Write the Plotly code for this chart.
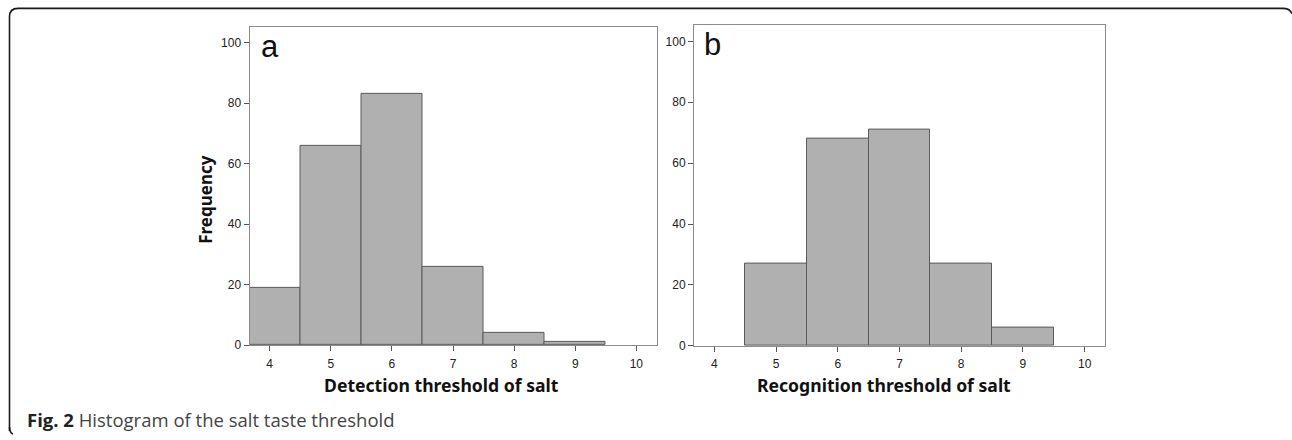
import plotly.graph_objects as go

W, H = 1292, 440

thresholds = [4, 5, 6, 7, 8, 9, 10]
detection_freq = [19, 66, 83, 26, 4, 1, 0]
recognition_freq = [0, 27, 68, 71, 27, 6, 0]
y_ticks = [0, 20, 40, 60, 80, 100]
panel_labels = ["a", "b"]
x_titles = ["Detection threshold of salt", "Recognition threshold of salt"]
y_title = "Frequency"
caption_bold = "Fig. 2"
caption_rest = " Histogram of the salt taste threshold"

def px(x):
    return x / W

def py(y):
    return 1 - y / H

def nonzero(xs, ys):
    pairs = [(a, b) for a, b in zip(xs, ys) if b > 0]
    return [p[0] for p in pairs], [p[1] for p in pairs]

bar_fill = "#b0b0b0"
bar_line = "#5a5a5a"
frame_col = "#8c8c8c"

fig = go.Figure()
dx, dy = nonzero(thresholds, detection_freq)
rx, ry = nonzero(thresholds, recognition_freq)
fig.add_trace(go.Bar(x=dx, y=dy, width=1,
                     marker=dict(color=bar_fill, line=dict(color=bar_line, width=1)),
                     xaxis="x", yaxis="y", showlegend=False, hoverinfo="x+y"))
fig.add_trace(go.Bar(x=rx, y=ry, width=1,
                     marker=dict(color=bar_fill, line=dict(color=bar_line, width=1)),
                     xaxis="x2", yaxis="y2", showlegend=False, hoverinfo="x+y"))

tickfont = dict(family="Liberation Sans, Arial, sans-serif", size=12, color="#222222")
common_x = dict(range=[3.67, 10.33], tickvals=thresholds, showline=True, mirror=True,
                linecolor=frame_col, linewidth=1, ticks="outside", ticklen=5,
                tickcolor="#555555", showgrid=False, zeroline=False, tickfont=tickfont,
                ticklabelstandoff=2, fixedrange=True)
common_y = dict(tickvals=y_ticks, showline=True, mirror=True,
                linecolor=frame_col, linewidth=1, ticks="outside", ticklen=5,
                tickcolor="#555555", showgrid=False, zeroline=False, tickfont=tickfont,
                fixedrange=True)

fig.update_layout(
    width=W, height=H,
    margin=dict(l=0, r=0, t=0, b=0),
    paper_bgcolor="white", plot_bgcolor="white",
    bargap=0,
    xaxis=dict(domain=[px(249.5), px(656.5)], anchor="y", **common_x),
    yaxis=dict(domain=[py(350.7), py(27.3)], range=[0, 105.2], anchor="x", **common_y),
    xaxis2=dict(domain=[px(694), px(1105)], anchor="y2", **common_x),
    yaxis2=dict(domain=[py(351.5), py(25)], range=[0, 105.5], anchor="x2", **common_y),
)

title_font = dict(family="Noto Sans, Open Sans, sans-serif", size=17.6, color="#111111")
annotations = [
    dict(text="<b>%s</b>" % x_titles[0], x=px(441), y=py(391), xref="paper", yref="paper",
         xanchor="center", yanchor="middle", showarrow=False, font=title_font),
    dict(text="<b>%s</b>" % x_titles[1], x=px(884), y=py(391), xref="paper", yref="paper",
         xanchor="center", yanchor="middle", showarrow=False, font=title_font),
    dict(text="<b>%s</b>" % y_title, x=px(206), y=py(203), xref="paper", yref="paper",
         xanchor="center", yanchor="middle", textangle=-90, showarrow=False,
         font=dict(family="Noto Sans, Open Sans, sans-serif", size=17, color="#111111")),
    dict(text=panel_labels[0], x=px(259), y=py(47), xref="paper", yref="paper",
         xanchor="left", yanchor="middle", showarrow=False,
         font=dict(family="Liberation Sans, Arial, sans-serif", size=31, color="#111111")),
    dict(text=panel_labels[1], x=px(702), y=py(45), xref="paper", yref="paper",
         xanchor="left", yanchor="middle", showarrow=False,
         font=dict(family="Liberation Sans, Arial, sans-serif", size=31, color="#111111")),
    dict(text="<b>%s</b><span style='color:#444444'>%s</span>" % (caption_bold, caption_rest),
         x=px(25), y=py(426), xref="paper", yref="paper",
         xanchor="left", yanchor="middle", showarrow=False,
         font=dict(family="Open Sans, Noto Sans, sans-serif", size=18.5, color="#222222")),
]
fig.update_layout(annotations=annotations)

# outer rounded frame
path = ("M %f,%f L %f,%f Q %f,%f %f,%f L %f,%f Q %f,%f %f,%f" % (
    px(9.5), py(438), px(9.5), py(17), px(9.5), py(8.5), px(18), py(8.5),
    px(1283), py(8.5), px(1290), py(8.5), px(1292), py(14)))
bottom = "M %f,%f Q %f,%f %f,%f" % (px(9.5), py(434), px(9.5), py(440), px(13), py(441))
fig.update_layout(shapes=[
    dict(type="path", path=path, xref="paper", yref="paper",
         line=dict(color="#1a1a1a", width=1.6)),
    dict(type="path", path=bottom, xref="paper", yref="paper",
         line=dict(color="#1a1a1a", width=1.6)),
])

fig.write_html("out.html", config={"displayModeBar": False})
